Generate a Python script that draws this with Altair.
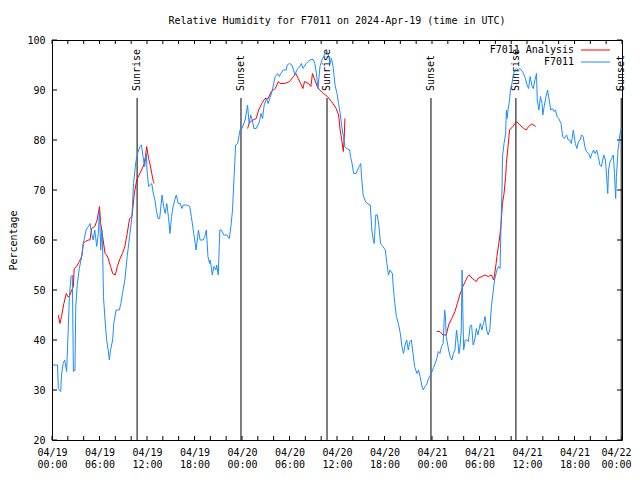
import altair as alt
import pandas as pd

# ---- data (hours since 2024-04-19 00:00 UTC, RH %) ----
blue_hours = [0.1, 0.7, 0.8, 1.1, 1.2, 1.4, 1.6, 1.85, 2.0, 2.2, 2.4, 2.57, 2.7, 2.9, 3.0, 3.2, 3.45, 3.75, 3.96, 4.3,
              4.6, 4.8, 5.0, 5.2, 5.4, 5.65, 5.85, 6.0, 6.15, 6.3, 6.4, 6.5, 6.7, 6.9, 7.1, 7.24, 7.4, 7.66, 7.8, 8.1,
              8.5, 8.7, 8.9, 9.2, 9.5, 9.8, 10.1, 10.3, 10.6, 10.8, 11.1, 11.3, 11.5, 11.7, 11.9, 12.0, 12.2, 12.4, 12.6, 12.8,
              13.0, 13.2, 13.4, 13.6, 13.9, 14.1, 14.3, 14.5, 14.7, 14.9, 15.1, 15.3, 15.5, 15.7, 15.95, 16.2, 16.4, 16.6, 17.0, 17.4,
              17.6, 17.9, 18.1, 18.2, 18.4, 18.5, 18.7, 19.1, 19.3, 19.5, 19.7, 19.9, 20.0, 20.25, 20.45, 20.7, 20.8, 21.0, 21.2, 21.4,
              21.7, 22.1, 22.4, 22.6, 22.8, 23.0, 23.2, 23.45, 23.75, 24.0, 24.4, 24.6, 24.7, 24.9, 25.1, 25.3, 25.5, 25.8, 26.0, 26.2,
              26.4, 26.6, 26.8, 27.1, 27.3, 27.5, 27.8, 28.0, 28.2, 28.5, 28.7, 28.9, 29.2, 29.6, 29.7, 30.0, 30.3, 30.5, 30.7, 30.9,
              31.1, 31.3, 31.5, 31.7, 32.1, 32.4, 32.7, 33.0, 33.2, 33.4, 33.6, 33.85, 34.1, 34.4, 34.7, 35.0, 35.1, 35.3, 35.5, 35.6,
              35.75, 36.0, 36.2, 36.4, 36.6, 36.8, 37.0, 37.2, 37.6, 37.7, 37.9, 38.1, 38.4, 38.6, 38.8, 39.0, 39.1, 39.3, 39.6, 39.8,
              40.2, 40.4, 40.6, 40.7, 40.9, 41.1, 41.3, 41.5, 41.8, 42.1, 42.3, 42.5, 42.7, 43.0, 43.1, 43.3, 43.5, 43.75, 44.0, 44.2,
              44.4, 44.6, 44.8, 45.0, 45.2, 45.4, 45.6, 45.8, 46.1, 46.3, 46.5, 46.7, 46.9, 47.1, 47.3, 47.5, 47.7, 47.9, 48.2, 48.4,
              48.6, 48.8, 49.0, 49.2, 49.4, 49.6, 49.7, 49.8, 50.1, 50.3, 50.5, 50.7, 50.9, 51.1, 51.3, 51.4, 51.5, 51.7, 51.8, 51.9,
              52.0, 52.2, 52.4, 52.6, 52.8, 53.0, 53.2, 53.4, 53.6, 53.8, 54.1, 54.3, 54.5, 54.7, 54.9, 55.1, 55.3, 55.5, 55.7, 55.9,
              56.2, 56.4, 56.6, 56.7, 56.85, 56.9, 57.1, 57.3, 57.4, 57.5, 57.6, 57.8, 57.9, 58.1, 58.3, 58.5, 58.7, 58.9, 59.1, 59.3,
              59.55, 59.8, 60.0, 60.2, 60.4, 60.6, 60.8, 61.0, 61.2, 61.3, 61.5, 61.7, 61.9, 62.0, 62.2, 62.4, 62.6, 62.8, 63.0, 63.2,
              63.4, 63.6, 63.8, 64.0, 64.3, 64.5, 64.7, 65.0, 65.2, 65.4, 65.6, 65.85, 66.1, 66.3, 66.5, 66.7, 66.9, 67.1, 67.3, 67.5,
              67.8, 68.0, 68.2, 68.4, 68.6, 68.8, 69.0, 69.2, 69.4, 69.7, 69.9, 70.0, 70.2, 70.3, 70.5, 70.7, 70.9, 71.05, 71.2, 71.3,
              71.5, 71.75, 71.9]
blue_rh = [35, 35, 30.3, 29.7, 33, 35.3, 36, 33.7, 40, 48.7, 52.7, 53, 33.7, 34, 46.7, 51.3, 54.3, 56.7, 59.3, 62,
           62.7, 63.3, 61.3, 60, 62, 58.7, 61.3, 66, 58, 62, 58, 48.7, 44, 40, 38, 36, 38, 40, 43.3, 46,
           46, 47.3, 49.3, 52, 56.7, 60.7, 64.7, 71.3, 75.7, 77.3, 78.7, 79, 76.7, 74.7, 77.3, 74, 70.7, 71, 71.3, 69.3,
           68, 65.7, 64.3, 64.3, 69, 66.7, 65.3, 67.3, 64.7, 61.3, 64.7, 66.7, 68, 69, 67.3, 67.3, 66.3, 67, 67, 66.7,
           64.7, 61.3, 59.3, 58, 60.7, 62, 60, 60, 60.7, 62, 56.7, 55.3, 56, 53, 54.7, 54, 55, 53, 62, 62,
           61, 61, 60.3, 62.7, 66, 72.7, 79, 79.3, 82, 82.3, 84, 86, 87, 83.3, 85, 84, 82.3, 82.3, 83, 83.7,
           85.3, 84.3, 87, 88.3, 87.3, 88.3, 89.7, 91.3, 92.7, 93.3, 92.7, 93.3, 94, 94, 95, 95.3, 95, 94, 93, 94,
           94.3, 94.7, 95.3, 94.3, 95.3, 95.7, 96.1, 96.1, 95.3, 93.3, 90.3, 94.7, 96, 97, 97.7, 96.7, 95.3, 96.3, 94.7, 93.3,
           91, 89.3, 87.3, 85.3, 82.7, 80.7, 78.7, 78.3, 78, 76.7, 75.3, 73.3, 73.3, 74, 74.7, 75.3, 72.7, 69, 67.7, 67.3,
           67, 62, 59.7, 59.3, 65, 65, 62.7, 59.3, 58.7, 58, 55.3, 53, 54, 53.3, 50.7, 47.3, 44.7, 43.3, 41.3, 38.7,
           37.3, 39, 40, 38, 39.7, 40, 37.3, 34.7, 33.3, 34, 32.7, 31, 30, 30.7, 31, 32, 32.7, 33.3, 34.5, 35.3,
           36.3, 37.7, 37.3, 38.7, 39.3, 46, 44.7, 40.7, 38, 36.7, 36, 37.3, 38, 42, 39.3, 37.3, 38, 42, 54, 45.3,
           38, 40, 40, 39.7, 42.7, 43, 39, 40, 42.3, 41, 43.3, 42, 43.3, 44.7, 42, 41, 42, 46.7, 49.3, 52,
           54, 54.7, 54.3, 62, 70.7, 76.7, 79.3, 81.3, 86, 84.3, 86, 88, 90, 91.3, 93.3, 94, 94.3, 94, 94.3, 94,
           93.3, 92.3, 91, 90.3, 92.7, 91, 90.3, 92, 93.3, 88, 86, 88.7, 87.3, 85, 87, 88.7, 90, 88, 86, 86.3,
           85.7, 86, 84.7, 84.3, 83.3, 80.7, 80.3, 81, 80, 80, 79.3, 82, 79.3, 78.3, 79.7, 80, 81, 80.7, 78.7, 77.7,
           77.3, 76.3, 77.3, 78, 77.3, 78, 76.7, 75, 74.7, 77, 76, 74, 69.3, 74, 75.7, 76.3, 77, 73.3, 68.3, 72.7,
           78, 81.3, 82.3]

red_hours_1 = [0.8, 1.0, 1.2, 1.5, 1.8, 2.0, 2.2, 2.5, 2.7, 2.8, 3.1, 3.45, 3.75, 3.96, 4.2, 4.6, 4.8, 5.0, 5.4, 5.7,
               6.0, 6.15, 6.4, 6.7, 6.9, 7.1, 7.4, 7.66, 8.0, 8.25, 8.6, 8.9, 9.2, 9.5, 9.8, 10.1, 10.4, 10.7, 11.0, 11.3,
               11.6, 11.8, 11.96, 12.2, 12.4, 12.6, 12.8, 12.9]
red_rh_1 = [45, 43.3, 44.7, 47.3, 49.3, 48.7, 48.7, 50, 50.7, 54.3, 54.7, 55.7, 56.7, 59.3, 59.7, 60, 60, 62.3, 62.7, 64,
            66.7, 63.3, 60.7, 57.3, 57, 56.3, 54.7, 53.3, 53, 54.7, 56.3, 57.3, 58.7, 61.3, 64.3, 64.7, 69.3, 72, 73, 74,
            75, 76.7, 78.7, 76.3, 75, 73.3, 71.7, 71.3]
red_hours_2 = [24.7, 24.9, 25.1, 25.4, 25.8, 26.1, 26.5, 26.9, 27.3, 27.7, 28.2, 28.6, 28.8, 29.4, 30.0, 30.5, 30.8, 31.1,
               31.4, 31.7, 31.9, 32.4, 32.7, 32.9, 33.2, 33.5, 33.8, 34.3, 34.8, 35.3, 35.9, 36.2, 36.4, 36.6, 36.8, 36.9, 37.0]
red_rh_2 = [82.3, 83.3, 83.7, 84, 84.3, 86, 87.3, 88.3, 88.3, 89.7, 90.3, 91.7, 91.3, 91.3, 91.7, 92.7, 93.3, 92.3,
            91.3, 90.3, 91.7, 91.3, 90.7, 93.3, 92, 90.7, 90, 89.3, 88.7, 87.7, 86.3, 85, 82, 80, 77.7, 80, 84.3]
red_hours_3 = [48.6, 49.0, 49.4, 49.8, 50.1, 50.5, 50.9, 51.2, 51.5, 51.9, 52.2, 52.5, 52.7, 53.1, 53.6, 53.8, 54.3, 54.7,
               55.1, 55.5, 55.8, 56.1, 56.2, 56.5, 56.7, 56.9, 57.1, 57.3, 57.4, 57.6, 57.8, 58.2, 58.7, 59.1, 59.6, 59.9,
               60.2, 60.6, 61.1]
red_rh_3 = [41.7, 41.7, 41, 41, 43, 44.3, 45.7, 47.3, 49, 50.7, 51.7, 52.7, 53, 52.3, 51.7, 52.3, 52.7, 53,
            52.7, 53, 52, 55.3, 56.7, 60, 62.7, 67.3, 69.3, 72.7, 75.3, 78.7, 82, 82.7, 83.7, 83, 82.3, 82,
            82.7, 83.2, 82.7]

event_hours = [10.75, 23.87, 34.74, 47.87, 58.6, 71.9]
event_names = ["Sunrise", "Sunset", "Sunrise", "Sunset", "Sunrise", "Sunset"]
event_top = 88.4

x_tick_hours = list(range(0, 73, 2))
x_label_hours = list(range(0, 73, 6))
y_ticks = [20, 30, 40, 50, 60, 70, 80, 90, 100]

series_names = ["F7011 Analysis", "F7011"]
series_colors = ["#ff0000", "#1e8cff"]

FONT = "DejaVu Sans Mono"
W, H = 570, 400

# ---- tables ----
blue = pd.DataFrame({"hours": blue_hours, "rh": blue_rh, "series": "F7011", "seg": 0})
red = pd.concat([
    pd.DataFrame({"hours": red_hours_1, "rh": red_rh_1, "series": "F7011 Analysis", "seg": 1}),
    pd.DataFrame({"hours": red_hours_2, "rh": red_rh_2, "series": "F7011 Analysis", "seg": 2}),
    pd.DataFrame({"hours": red_hours_3, "rh": red_rh_3, "series": "F7011 Analysis", "seg": 3}),
])
events = pd.DataFrame({"hours": event_hours, "name": event_names})
xt = pd.DataFrame({"hours": x_tick_hours})
yt = pd.DataFrame({"rh": y_ticks})
one = pd.DataFrame({"k": [0]})

xscale = alt.Scale(domain=[0, 72], nice=False, zero=False)
yscale = alt.Scale(domain=[20, 100], nice=False, zero=False)
cscale = alt.Scale(domain=series_names, range=series_colors)

label_expr = ("['04/' + (19 + floor(datum.value / 24)), "
              "(datum.value % 24 < 10 ? '0' : '') + (datum.value % 24) + ':00']")

x_axis = alt.Axis(values=x_label_hours, labelExpr=label_expr, tickSize=0, domain=False, grid=False,
                  labelFont=FONT, labelFontSize=10, labelColor="black", labelPadding=7,
                  labelLineHeight=12, labelFlush=False, labelOverlap=False, title=None,
                  labelOffset={"condition": {"test": "datum.value >= 72", "value": -6},
                               "value": 0})
y_axis = alt.Axis(values=y_ticks, tickSize=0, domain=False, grid=False,
                  labelFont=FONT, labelFontSize=10, labelColor="black", labelPadding=7,
                  title="Percentage", titleFont=FONT, titleFontSize=10, titleFontWeight="normal",
                  titleColor="black", titleX=-39, titleY=H / 2, titleAngle=270,
                  titleAlign="center", titleBaseline="middle")

X = alt.X("hours:Q", scale=xscale, axis=x_axis)
Y = alt.Y("rh:Q", scale=yscale, axis=y_axis)

tick_bottom = alt.Chart(xt).mark_rule(color="black", strokeWidth=1).encode(
    x=X, y=alt.value(H), y2=alt.value(H - 4))
tick_top = alt.Chart(xt).mark_rule(color="black", strokeWidth=1).encode(
    x=X, y=alt.value(0), y2=alt.value(4))
tick_left = alt.Chart(yt).mark_rule(color="black", strokeWidth=1).encode(
    y=Y, x=alt.value(0), x2=alt.value(5))
tick_right = alt.Chart(yt).mark_rule(color="black", strokeWidth=1).encode(
    y=Y, x=alt.value(W), x2=alt.value(W - 5))

sun_rules = alt.Chart(events).mark_rule(color="black", strokeWidth=1).encode(
    x=X, y=alt.datum(event_top, scale=yscale, axis=y_axis), y2=alt.datum(20))
sun_text = alt.Chart(events).mark_text(angle=270, align="left", baseline="middle", dx=7,
                                       font=FONT, fontSize=10, color="black").encode(
    x=X, y=alt.datum(event_top, scale=yscale, axis=y_axis), text="name:N")

red_line = alt.Chart(red).mark_line(strokeWidth=1, interpolate="linear").encode(
    x=X, y=Y, detail="seg:N",
    color=alt.Color("series:N", scale=cscale, legend=None))
blue_line = alt.Chart(blue).mark_line(strokeWidth=1, interpolate="linear").encode(
    x=X, y=Y, color=alt.Color("series:N", scale=cscale, legend=None))

# legend (gnuplot style: label on the left, line sample on the right)
leg_red_txt = alt.Chart(one).mark_text(align="right", baseline="middle", font=FONT, fontSize=10,
                                       color="black", text=series_names[0]).encode(
    x=alt.value(522), y=alt.value(10))
leg_blue_txt = alt.Chart(one).mark_text(align="right", baseline="middle", font=FONT, fontSize=10,
                                        color="black", text=series_names[1]).encode(
    x=alt.value(522), y=alt.value(22))
leg_red_line = alt.Chart(one).mark_rule(color=series_colors[0], strokeWidth=1).encode(
    x=alt.value(529), x2=alt.value(558), y=alt.value(10))
leg_blue_line = alt.Chart(one).mark_rule(color=series_colors[1], strokeWidth=1).encode(
    x=alt.value(529), x2=alt.value(558), y=alt.value(22))

chart = alt.layer(
    tick_bottom, tick_top, tick_left, tick_right,
    sun_rules, sun_text,
    red_line, blue_line,
    leg_red_txt, leg_blue_txt, leg_red_line, leg_blue_line,
).properties(
    width=W, height=H,
    title=alt.TitleParams("Relative Humidity for F7011 on 2024-Apr-19 (time in UTC)",
                          font=FONT, fontSize=10, fontWeight="normal", color="black",
                          anchor="middle", offset=9),
    autosize=alt.AutoSizeParams(type="none"),
    padding={"left": 44, "top": 32, "right": 10, "bottom": 28},
    background="white",
).configure_view(stroke="black", strokeWidth=1)

chart.save("out.html", embed_options={"renderer": "svg", "actions": False})
